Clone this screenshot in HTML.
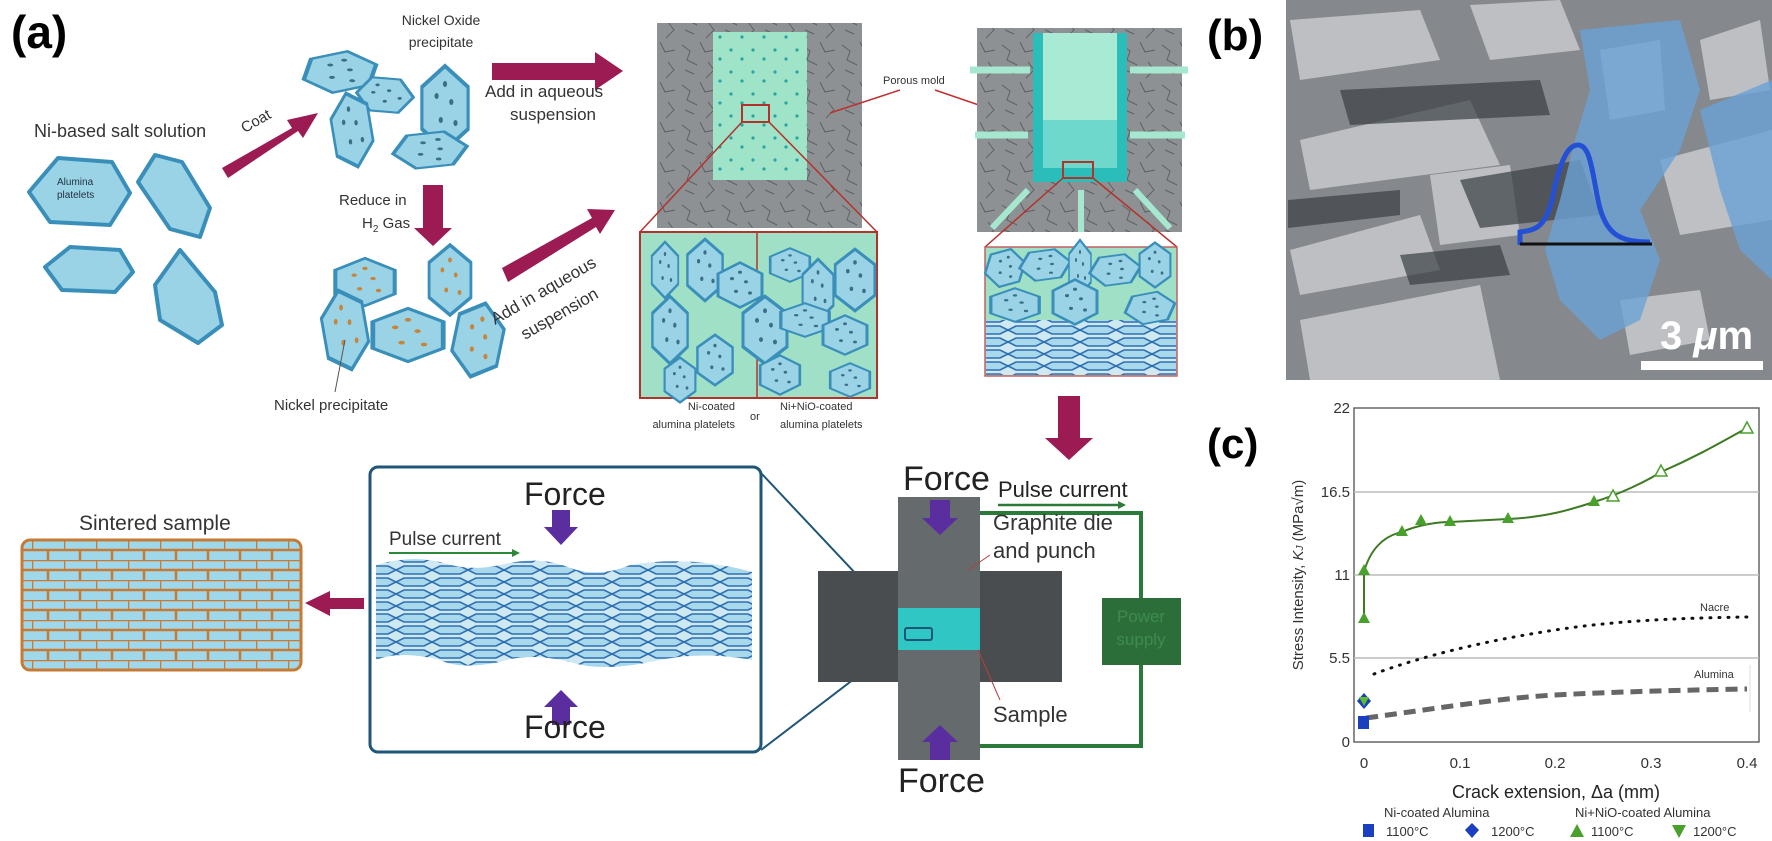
<!DOCTYPE html>
<html><head><meta charset="utf-8"><style>
html,body{margin:0;padding:0;background:#fff;}
svg{display:block;font-family:"Liberation Sans",sans-serif;}
</style></head><body>
<svg width="1772" height="841" viewBox="0 0 1772 841" xmlns="http://www.w3.org/2000/svg">
<defs>
<pattern id="brick" width="32" height="20" patternUnits="userSpaceOnUse">
<rect width="32" height="20" fill="#9fd8ea"/>
<path d="M0 0H32M0 10H32M0 0V10M16 10V20" stroke="#c77a33" stroke-width="2.5" fill="none"/>
</pattern>
<pattern id="crack" width="40" height="40" patternUnits="userSpaceOnUse">
<rect width="40" height="40" fill="#8e9194"/>
<path d="M2 5l8 6l-3 9l10 5M20 2l5 10l10-2M28 22l6 8l-8 8M5 30l9 4" stroke="#5d6064" stroke-width="1" fill="none"/>
</pattern>
<pattern id="dots" width="22" height="22" patternUnits="userSpaceOnUse">
<rect width="22" height="22" fill="#9fe3c8"/>
<circle cx="5" cy="6" r="1.6" fill="#2aa3a0"/><circle cx="16" cy="15" r="1.6" fill="#2aa3a0"/>
</pattern>
<pattern id="stack" width="36" height="12" patternUnits="userSpaceOnUse">
<rect width="36" height="12" fill="#cfe9f3"/>
<path d="M0 6l8-4l20 0l8 4l-8 4l-20 0z" fill="#a8d8ec" stroke="#2f6fb0" stroke-width="1.6"/>
</pattern>
<g id="hexd"><polygon points="-22,-14 0,-28 22,-14 22,14 0,28 -22,14" fill="#9bd3e6" stroke="#3a8fba" stroke-width="3"/><circle cx="-8" cy="-8" r="2" fill="#3a6f86"/><circle cx="6" cy="-4" r="2" fill="#3a6f86"/><circle cx="-4" cy="8" r="2" fill="#3a6f86"/><circle cx="10" cy="10" r="2" fill="#3a6f86"/><circle cx="0" cy="-16" r="2" fill="#3a6f86"/></g>
<g id="hexo"><polygon points="-22,-14 0,-28 22,-14 22,14 0,28 -22,14" fill="#9bd3e6" stroke="#3a8fba" stroke-width="3"/><circle cx="-8" cy="-8" r="2" fill="#c8843a"/><circle cx="6" cy="-4" r="2" fill="#c8843a"/><circle cx="-4" cy="8" r="2" fill="#c8843a"/><circle cx="10" cy="10" r="2" fill="#c8843a"/><circle cx="0" cy="-16" r="2" fill="#c8843a"/></g>
</defs>

<!-- (a) -->
<text x="11" y="48" font-size="46" font-weight="bold">(a)</text>
<text x="34" y="137" font-size="18" fill="#333">Ni-based salt solution</text>
<g fill="#9bd3e6" stroke="#3a8fba" stroke-width="4" stroke-linejoin="round">
<polygon points="29,192 58,158 112,162 130,193 110,225 50,222"/>
<polygon points="138,182 155,155 182,162 210,208 200,237 170,229"/>
<polygon points="45,267 70,247 120,250 133,272 115,292 62,290"/>
<polygon points="155,285 180,250 215,292 222,325 198,343 160,320"/>
</g>
<text x="57" y="185" font-size="10" fill="#234">Alumina</text><text x="57" y="198" font-size="10" fill="#234">platelets</text>
<polygon points="222,168 292,128 287,120 318,113 303,138 298,131 228,178" fill="#9b1b52"/>
<text x="240" y="128" font-size="15" fill="#333" transform="rotate(-30 252 122)">Coat</text>
<!-- NiO cluster -->
<text x="441" y="25" font-size="14" fill="#333" text-anchor="middle">Nickel Oxide</text><text x="441" y="47" font-size="14" fill="#333" text-anchor="middle">precipitate</text>
<use href="#hexd" transform="translate(340,72) scale(1.5,0.75) rotate(10)"/>
<use href="#hexd" transform="translate(445,108) scale(1.05,1.5)"/>
<use href="#hexd" transform="translate(385,95) scale(1.1,0.7) rotate(-25)"/>
<use href="#hexd" transform="translate(352,130) scale(0.85,1.35) rotate(-15)"/>
<use href="#hexd" transform="translate(430,150) scale(1.45,0.7) rotate(20)"/>
<text x="339" y="205" font-size="15" fill="#333">Reduce in</text>
<text x="362" y="228" font-size="15" fill="#333">H<tspan font-size="10" dy="4">2</tspan><tspan dy="-4"> Gas</tspan></text>
<polygon points="423,185 443,185 443,228 452,228 433,246 414,228 423,228" fill="#9b1b52"/>
<use href="#hexo" transform="translate(365,282) scale(1.35,0.85)"/>
<use href="#hexo" transform="translate(450,280) scale(0.95,1.25)"/>
<use href="#hexo" transform="translate(408,335) scale(1.6,0.95)"/>
<use href="#hexo" transform="translate(345,330) scale(0.95,1.45) rotate(-15)"/>
<use href="#hexo" transform="translate(478,340) scale(1.05,1.35) rotate(15)"/>
<line x1="345" y1="340" x2="335" y2="392" stroke="#555"/>
<text x="274" y="410" font-size="15" fill="#333">Nickel precipitate</text>
<!-- right arrows -->
<polygon points="492,63 595,63 595,52 623,71 595,90 595,80 492,80" fill="#9b1b52"/>
<text x="485" y="97" font-size="17" fill="#333">Add in aqueous</text><text x="510" y="120" font-size="17" fill="#333">suspension</text>
<polygon points="502,268 592,218 587,209 615,210 600,234 596,227 508,282" fill="#9b1b52"/>
<text x="495" y="325" font-size="17" fill="#333" transform="rotate(-30 495 325)">Add in aqueous</text>
<text x="525" y="340" font-size="17" fill="#333" transform="rotate(-30 525 340)">suspension</text>
<!-- mold 1 -->
<rect x="657" y="23" width="205" height="205" fill="url(#crack)"/>
<rect x="713" y="32" width="94" height="148" fill="url(#dots)"/>
<rect x="742" y="105" width="27" height="17" fill="none" stroke="#b3322b" stroke-width="2"/>
<path d="M742 122L640 232M769 122L877 232" stroke="#b3322b" stroke-width="1.5"/>
<rect x="640" y="232" width="237" height="166" fill="#9fe0c6" stroke="#b3322b" stroke-width="2"/>
<line x1="757" y1="232" x2="757" y2="398" stroke="#b3322b" stroke-width="1.5"/>
<g>
<use href="#hexd" transform="translate(665,270) scale(0.6,1)"/><use href="#hexd" transform="translate(705,270) scale(0.8,1.1)"/>
<use href="#hexd" transform="translate(740,285) scale(1,0.8)"/><use href="#hexd" transform="translate(790,265) scale(0.9,0.6)"/>
<use href="#hexd" transform="translate(818,290) scale(0.7,1.1)"/><use href="#hexd" transform="translate(855,280) scale(0.9,1.1)"/>
<use href="#hexd" transform="translate(670,330) scale(0.8,1.2)"/><use href="#hexd" transform="translate(715,360) scale(0.8,0.9)"/>
<use href="#hexd" transform="translate(765,330) scale(1,1.2)"/><use href="#hexd" transform="translate(805,320) scale(1.1,0.6)"/>
<use href="#hexd" transform="translate(845,335) scale(1,0.7)"/><use href="#hexd" transform="translate(680,380) scale(0.7,0.8)"/>
<use href="#hexd" transform="translate(780,375) scale(0.9,0.7)"/><use href="#hexd" transform="translate(850,380) scale(0.9,0.6)"/>
</g>
<text x="883" y="84" font-size="11" fill="#333">Porous mold</text>
<path d="M830 113L900 90M935 90L1008 115" stroke="#c03030" stroke-width="1.5"/>
<!-- mold 2 -->
<rect x="977" y="28" width="205" height="204" fill="url(#crack)"/>
<rect x="1033" y="33" width="94" height="149" fill="#a8ead4"/>
<rect x="1033" y="33" width="10" height="149" fill="#2bbdb9"/>
<rect x="1117" y="33" width="10" height="149" fill="#2bbdb9"/>
<rect x="1033" y="168" width="94" height="14" fill="#2bbdb9"/>
<rect x="1043" y="120" width="74" height="48" fill="#6fd8cc"/>
<path d="M970 70H1030M975 135H1028M1130 70H1188M1130 135H1185" stroke="#a6e8cf" stroke-width="7"/>
<path d="M1028 190L992 228M1081 190V232M1135 190L1170 228" stroke="#a6e8cf" stroke-width="6"/>
<rect x="1063" y="162" width="30" height="16" fill="none" stroke="#b3322b" stroke-width="2"/>
<path d="M1063 178L985 247M1093 178L1177 247" stroke="#b3322b" stroke-width="1.5"/>
<rect x="985" y="247" width="192" height="129" fill="#9fe0c6" stroke="#c06060" stroke-width="1.5"/>
<rect x="986" y="320" width="190" height="55" fill="url(#stack)"/>
<use href="#hexd" transform="translate(1005,268) scale(0.8,0.7) rotate(15)"/><use href="#hexd" transform="translate(1045,265) scale(1,0.6) rotate(20)"/>
<use href="#hexd" transform="translate(1080,268) scale(0.5,1)"/><use href="#hexd" transform="translate(1115,270) scale(1,0.6) rotate(20)"/>
<use href="#hexd" transform="translate(1155,265) scale(0.7,0.8)"/><use href="#hexd" transform="translate(1015,305) scale(1.1,0.6)"/>
<use href="#hexd" transform="translate(1075,302) scale(1,0.8)"/><use href="#hexd" transform="translate(1150,308) scale(1,0.6) rotate(15)"/>
<text x="735" y="410" font-size="11" fill="#333" text-anchor="end">Ni-coated</text><text x="735" y="428" font-size="11" fill="#333" text-anchor="end">alumina platelets</text>
<text x="750" y="420" font-size="11" fill="#333">or</text>
<text x="780" y="410" font-size="11" fill="#333">Ni+NiO-coated</text><text x="780" y="428" font-size="11" fill="#333">alumina platelets</text>
<polygon points="1058,396 1080,396 1080,438 1093,438 1069,460 1045,438 1058,438" fill="#9b1b52"/>

<!-- bottom -->
<text x="79" y="530" font-size="21" fill="#333">Sintered sample</text>
<rect x="22" y="540" width="279" height="130" rx="8" fill="url(#brick)" stroke="#c77a33" stroke-width="3"/>
<polygon points="305,603 330,591 330,598 364,598 364,609 330,609 330,616" fill="#9b1b52"/>
<rect x="370" y="467" width="391" height="285" rx="8" fill="#fff" stroke="#1f5678" stroke-width="3"/>
<path d="M376 565Q410 555 440 562Q470 572 500 565Q540 555 570 568Q600 578 630 565Q690 555 752 572V660Q700 650 650 662Q600 672 570 662Q530 652 500 662Q460 670 440 660Q400 650 376 660Z" fill="url(#stack)"/>
<text x="524" y="505" font-size="32" fill="#222">Force</text>
<polygon points="552,510 570,510 570,527 578,527 561,545 544,527 552,527" fill="#5b2ea0"/>
<text x="389" y="545" font-size="19" fill="#333">Pulse current</text>
<line x1="389" y1="553" x2="512" y2="553" stroke="#2b8a3a" stroke-width="2"/>
<polygon points="512,549 520,553 512,557" fill="#2b8a3a"/>
<polygon points="552,725 570,725 570,707 578,707 561,690 544,707 552,707" fill="#5b2ea0"/>
<text x="524" y="738" font-size="32" fill="#222">Force</text>
<path d="M761 473L905 626M761 750L905 640" stroke="#1f5678" stroke-width="2"/>
<!-- apparatus -->
<rect x="818" y="571" width="244" height="111" fill="#4a4d4f"/>
<rect x="898" y="497" width="82" height="263" fill="#656a6d"/>
<rect x="898" y="608" width="82" height="42" fill="#2fc6c4"/>
<rect x="905" y="628" width="27" height="12" rx="2" fill="none" stroke="#1f5678" stroke-width="2"/>
<path d="M980 513H1141V746H980" stroke="#2b7a3a" stroke-width="4" fill="none"/>
<rect x="1102" y="598" width="79" height="67" fill="#2b6e3a"/>
<text x="1141" y="622" font-size="17" fill="#3f8a50" text-anchor="middle">Power</text><text x="1141" y="645" font-size="17" fill="#3f8a50" text-anchor="middle">supply</text>
<text x="998" y="497" font-size="22" fill="#222">Pulse current</text>
<line x1="998" y1="505" x2="1118" y2="505" stroke="#2b7a3a" stroke-width="2.5"/>
<polygon points="1118,501 1126,505 1118,509" fill="#2b7a3a"/>
<text x="993" y="530" font-size="22" fill="#333">Graphite die</text><text x="993" y="558" font-size="22" fill="#333">and punch</text>
<line x1="990" y1="555" x2="968" y2="570" stroke="#b04040"/>
<text x="993" y="722" font-size="22" fill="#333">Sample</text>
<line x1="1000" y1="700" x2="978" y2="650" stroke="#b04040"/>
<text x="903" y="490" font-size="34" fill="#222">Force</text>
<polygon points="930,500 950,500 950,518 958,518 940,535 922,518 930,518" fill="#5b2ea0"/>
<polygon points="930,760 950,760 950,742 958,742 940,725 922,742 930,742" fill="#5b2ea0"/>
<text x="898" y="792" font-size="34" fill="#222">Force</text>

<!-- (b) SEM -->
<text x="1207" y="50" font-size="44" font-weight="bold">(b)</text>
<rect x="1286" y="0" width="486" height="380" fill="#85888c"/>
<g fill="#c4c6c9" opacity="0.9">
<path d="M1290 20L1420 10L1440 60L1300 80Z"/><path d="M1300 140L1470 100L1500 165L1310 190Z"/>
<path d="M1290 250L1420 215L1440 270L1300 295Z"/><path d="M1470 5L1560 0L1580 50L1490 60Z"/>
<path d="M1660 160L1772 130L1772 220L1680 235Z"/><path d="M1300 320L1480 285L1500 380L1310 380Z"/>
<path d="M1620 300L1700 290L1710 340L1630 355Z"/><path d="M1430 175L1510 165L1520 235L1440 245Z"/>
<path d="M1600 50L1660 40L1665 110L1610 120Z"/><path d="M1700 40L1760 20L1770 90L1710 100Z"/>
</g>
<g fill="#3a4044" opacity="0.7"><path d="M1340 90L1540 80L1550 115L1350 125Z"/><path d="M1460 180L1580 160L1600 215L1480 228Z"/><path d="M1288 200L1400 190L1400 215L1288 228Z"/><path d="M1400 255L1500 245L1510 275L1410 285Z"/></g>
<g fill="#6aa3d6" opacity="0.8">
<path d="M1580 30L1680 20L1700 90L1680 150L1640 210L1660 260L1640 320L1600 340L1560 300L1545 250L1560 200L1575 140L1590 90Z"/>
<path d="M1700 110L1772 80L1772 280L1740 250L1720 190Z"/>
</g>
<path d="M1520 245V232C1535 230 1545 228 1552 200C1560 160 1568 145 1578 145C1590 145 1592 170 1598 200C1605 235 1620 242 1650 242" stroke="#2450d6" stroke-width="5" fill="none"/>
<line x1="1520" y1="244" x2="1652" y2="244" stroke="#111" stroke-width="3"/>
<text x="1660" y="349" font-size="40" font-weight="bold" fill="#fff">3 <tspan font-style="italic">μ</tspan>m</text>
<rect x="1641" y="361" width="122" height="9" fill="#fff"/>

<!-- (c) chart -->
<text x="1207" y="458" font-size="42" font-weight="bold">(c)</text>
<rect x="1354" y="408" width="405" height="334" fill="#fff" stroke="#666" stroke-width="1.5"/>
<g stroke="#bbb" stroke-width="1.5"><line x1="1354" y1="492" x2="1759" y2="492"/><line x1="1354" y1="575" x2="1759" y2="575"/><line x1="1354" y1="658" x2="1759" y2="658"/></g>
<g font-size="15" fill="#333" text-anchor="end">
<text x="1350" y="413">22</text><text x="1350" y="497">16.5</text><text x="1350" y="580">11</text><text x="1350" y="663">5.5</text><text x="1350" y="747">0</text></g>
<g font-size="15" fill="#333" text-anchor="middle">
<text x="1364" y="768">0</text><text x="1460" y="768">0.1</text><text x="1555" y="768">0.2</text><text x="1651" y="768">0.3</text><text x="1747" y="768">0.4</text></g>
<text x="1303" y="575" font-size="15" fill="#333" text-anchor="middle" transform="rotate(-90 1303 575)">Stress Intensity, <tspan font-style="italic">K</tspan><tspan font-size="10" font-style="italic">J</tspan> (MPa√m)</text>
<text x="1556" y="798" font-size="18" fill="#222" text-anchor="middle">Crack extension, Δa (mm)</text>
<path d="M1374 674C1425 655 1490 640 1555 630S1685 618 1747 617" stroke="#111" stroke-width="3" stroke-dasharray="1,8" stroke-linecap="round" fill="none"/>
<text x="1700" y="611" font-size="11" fill="#333">Nacre</text>
<path d="M1366 718C1440 708 1500 698 1555 695S1685 690 1747 689" stroke="#666" stroke-width="5" stroke-dasharray="12,7" fill="none"/>
<text x="1694" y="678" font-size="11" fill="#333">Alumina</text>
<line x1="1750" y1="665" x2="1750" y2="712" stroke="#ddd"/>
<path d="M1364 620V572C1370 550 1383 536 1402 532C1420 524 1440 522 1450 522L1508 519C1550 517 1575 508 1594 502C1620 494 1645 482 1661 472C1700 455 1725 440 1747 428" stroke="#3d7a23" stroke-width="2" fill="none"/>
<g fill="#4aa02c">
<polygon points="1364,612 1370,623 1358,623"/><polygon points="1364,564 1370,575 1358,575"/>
<polygon points="1402,525 1408,536 1396,536"/><polygon points="1421,514 1427,525 1415,525"/>
<polygon points="1450,515 1456,526 1444,526"/><polygon points="1508,512 1514,523 1502,523"/>
<polygon points="1594,495 1600,506 1588,506"/></g>
<g fill="#fff" stroke="#4aa02c" stroke-width="1.5">
<polygon points="1613,490 1619,501 1607,501"/><polygon points="1661,465 1667,476 1655,476"/><polygon points="1747,422 1753,433 1741,433"/></g>
<rect x="1358" y="716" width="11" height="13" fill="#1a3fbf"/>
<polygon points="1364,693 1371,701 1364,709 1357,701" fill="#1a3fbf"/>
<polygon points="1359,697 1369,697 1364,706" fill="#5fbf2a"/>
<g font-size="13" fill="#333">
<text x="1384" y="817">Ni-coated Alumina</text><text x="1575" y="817">Ni+NiO-coated Alumina</text>
<rect x="1363" y="824" width="11" height="13" fill="#1a3fbf"/><text x="1386" y="836">1100°C</text>
<polygon points="1472,823 1479,830 1472,838 1465,830" fill="#1a3fbf"/><text x="1491" y="836">1200°C</text>
<polygon points="1577,824 1584,837 1570,837" fill="#4aa02c"/><text x="1591" y="836">1100°C</text>
<polygon points="1672,825 1686,825 1679,838" fill="#4aa02c"/><text x="1693" y="836">1200°C</text>
</g>
</svg>
</body></html>
